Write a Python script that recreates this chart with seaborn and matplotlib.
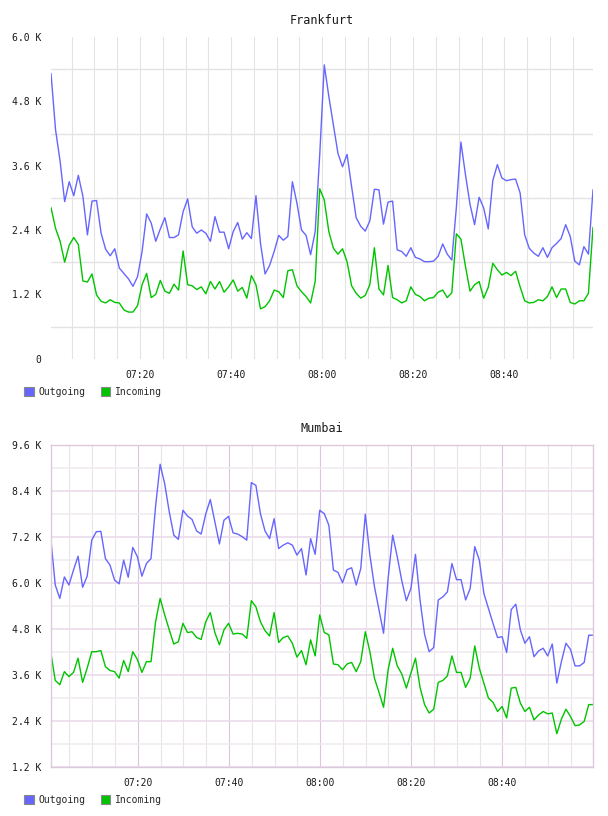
import matplotlib
matplotlib.use("Agg")
import matplotlib.pyplot as plt
import matplotlib.dates as mdates
from matplotlib.patches import Patch
from matplotlib.ticker import FuncFormatter, MultipleLocator
import numpy as np
import pandas as pd
import seaborn as sns


"""
DATA (values in thousands, one sample per minute)
"""

FRANKFURT_START = "2024-01-01 07:00:28"
MUMBAI_START = "2024-01-01 07:00:55"

frankfurt_out = [
    5.32, 4.27, 3.68, 2.93, 3.30, 3.04, 3.42, 3.03, 2.31, 2.94,
    2.95, 2.34, 2.04, 1.92, 2.05, 1.69, 1.59, 1.49, 1.35, 1.53,
    2.00, 2.70, 2.53, 2.19, 2.42, 2.63, 2.26, 2.26, 2.31, 2.74,
    2.98, 2.46, 2.34, 2.40, 2.34, 2.19, 2.65, 2.36, 2.36, 2.05,
    2.37, 2.54, 2.23, 2.35, 2.24, 3.04, 2.15, 1.58, 1.74, 2.00,
    2.30, 2.21, 2.28, 3.30, 2.90, 2.40, 2.30, 1.94, 2.37, 3.80,
    5.48, 4.89, 4.36, 3.83, 3.58, 3.81, 3.21, 2.63, 2.47, 2.38,
    2.57, 3.16, 3.15, 2.51, 2.92, 2.94, 2.03, 2.00, 1.91, 2.07,
    1.89, 1.86, 1.81, 1.81, 1.82, 1.91, 2.14, 1.95, 1.84, 2.82,
    4.04, 3.43, 2.88, 2.50, 3.01, 2.81, 2.42, 3.32, 3.62, 3.37,
    3.32, 3.34, 3.35, 3.09, 2.31, 2.06, 1.97, 1.91, 2.07, 1.89,
    2.07, 2.15, 2.24, 2.50, 2.28, 1.82, 1.75, 2.09, 1.95, 3.15,
]
frankfurt_in = [
    2.82, 2.43, 2.19, 1.80, 2.12, 2.26, 2.13, 1.45, 1.43, 1.58,
    1.19, 1.07, 1.04, 1.10, 1.05, 1.04, 0.91, 0.87, 0.87, 0.99,
    1.38, 1.59, 1.14, 1.20, 1.46, 1.26, 1.22, 1.39, 1.28, 2.01,
    1.38, 1.36, 1.29, 1.34, 1.21, 1.44, 1.30, 1.44, 1.24, 1.34,
    1.47, 1.26, 1.33, 1.13, 1.55, 1.38, 0.93, 0.97, 1.08, 1.28,
    1.25, 1.14, 1.64, 1.66, 1.36, 1.25, 1.16, 1.04, 1.44, 3.17,
    2.96, 2.37, 2.06, 1.95, 2.05, 1.81, 1.36, 1.22, 1.13, 1.18,
    1.38, 2.07, 1.30, 1.19, 1.74, 1.14, 1.10, 1.04, 1.08, 1.34,
    1.20, 1.16, 1.08, 1.13, 1.14, 1.24, 1.28, 1.14, 1.23, 2.33,
    2.23, 1.72, 1.26, 1.38, 1.44, 1.13, 1.33, 1.78, 1.66, 1.56,
    1.61, 1.55, 1.63, 1.34, 1.08, 1.04, 1.05, 1.10, 1.08, 1.16,
    1.34, 1.14, 1.30, 1.30, 1.05, 1.02, 1.08, 1.08, 1.22, 2.45,
]

mumbai_out = [
    7.18, 5.94, 5.59, 6.15, 5.94, 6.33, 6.69, 5.88, 6.17, 7.11,
    7.33, 7.34, 6.63, 6.46, 6.07, 5.97, 6.59, 6.14, 6.92, 6.68,
    6.17, 6.50, 6.63, 7.99, 9.09, 8.58, 7.85, 7.24, 7.13, 7.89,
    7.74, 7.65, 7.35, 7.27, 7.79, 8.17, 7.59, 7.01, 7.63, 7.73,
    7.30, 7.27, 7.20, 7.11, 8.61, 8.54, 7.80, 7.35, 7.15, 7.67,
    6.89, 6.98, 7.04, 6.98, 6.72, 6.89, 6.20, 7.15, 6.74, 7.89,
    7.80, 7.50, 6.33, 6.27, 6.00, 6.34, 6.39, 5.94, 6.37, 7.79,
    6.72, 5.90, 5.29, 4.68, 6.11, 7.24, 6.68, 6.05, 5.53, 5.85,
    6.74, 5.55, 4.65, 4.20, 4.31, 5.55, 5.63, 5.76, 6.50, 6.08,
    6.08, 5.55, 5.85, 6.94, 6.59, 5.72, 5.33, 4.94, 4.57, 4.59,
    4.18, 5.30, 5.44, 4.77, 4.42, 4.59, 4.07, 4.22, 4.29, 4.09,
    4.40, 3.38, 3.94, 4.42, 4.26, 3.83, 3.83, 3.92, 4.63, 4.63,
]
mumbai_in = [
    4.20, 3.45, 3.34, 3.68, 3.55, 3.66, 4.03, 3.40, 3.77, 4.20,
    4.20, 4.23, 3.81, 3.71, 3.68, 3.51, 3.97, 3.68, 4.20, 4.00,
    3.66, 3.94, 3.94, 4.98, 5.59, 5.16, 4.77, 4.40, 4.46, 4.94,
    4.70, 4.72, 4.57, 4.52, 4.98, 5.22, 4.70, 4.38, 4.77, 4.94,
    4.66, 4.68, 4.66, 4.55, 5.53, 5.37, 4.98, 4.75, 4.61, 5.22,
    4.44, 4.57, 4.61, 4.42, 4.06, 4.23, 3.86, 4.51, 4.09, 5.16,
    4.70, 4.64, 3.88, 3.86, 3.73, 3.88, 3.92, 3.68, 3.94, 4.72,
    4.20, 3.51, 3.14, 2.75, 3.73, 4.29, 3.83, 3.62, 3.25, 3.64,
    4.03, 3.27, 2.82, 2.60, 2.70, 3.40, 3.45, 3.57, 4.09, 3.66,
    3.66, 3.27, 3.51, 4.35, 3.77, 3.38, 2.99, 2.88, 2.64, 2.77,
    2.47, 3.25, 3.27, 2.86, 2.64, 2.75, 2.42, 2.55, 2.64, 2.58,
    2.60, 2.06, 2.44, 2.70, 2.51, 2.27, 2.29, 2.38, 2.82, 2.82,
]

SERIES_LABELS = ["Outgoing", "Incoming"]

OUT_COLOR = "#6666ff"
IN_COLOR = "#00c400"
TEXT_COLOR = "#1a1a1a"
FONT = "DejaVu Sans Mono"


def k_label(v, pos):
    if abs(v) < 1e-9:
        return "0"
    return f"{v:.1f} K"


def draw_panel(ax, fig, title, start, out_vals, in_vals, ylim, style, legend_y):
    times = pd.date_range(start, periods=len(out_vals), freq="1min")
    df = pd.DataFrame({"time": times, "out": out_vals, "in": in_vals})

    sns.lineplot(data=df, x="time", y="out", color=OUT_COLOR, linewidth=1.0, ax=ax)
    sns.lineplot(data=df, x="time", y="in", color=IN_COLOR, linewidth=1.0, ax=ax)

    ax.set_xlim(times[0], times[-1])
    ax.set_ylim(ylim)
    ax.set_xlabel("")
    ax.set_ylabel("")

    ax.xaxis.set_major_locator(mdates.MinuteLocator(byminute=[0, 20, 40]))
    ax.xaxis.set_minor_locator(mdates.MinuteLocator(byminute=range(0, 60, 5)))
    ax.xaxis.set_major_formatter(mdates.DateFormatter("%H:%M"))
    ax.yaxis.set_major_locator(MultipleLocator(1.2))
    ax.yaxis.set_major_formatter(FuncFormatter(k_label))
    ax.set_yticks(np.arange(ylim[0] + 0.6, ylim[1], 1.2), minor=True)

    ax.tick_params(which="both", length=0, labelsize=7, colors=TEXT_COLOR)
    ax.tick_params(axis="x", pad=8)
    ax.tick_params(axis="y", pad=7)
    for lab in ax.get_xticklabels() + ax.get_yticklabels():
        lab.set_family(FONT)

    ax.set_axisbelow(True)
    if style == "plain":
        # Frankfurt: grey grid, no frame, horizontal lines between labels
        ax.grid(False)
        ax.grid(which="both", axis="x", color="#e3e3e3", linewidth=0.8)
        ax.grid(which="minor", axis="y", color="#e3e3e3", linewidth=1.0)
        for sp in ax.spines.values():
            sp.set_visible(False)
    else:
        # Mumbai: purple frame, purple major lines, grey minor lines
        ax.grid(False)
        ax.grid(which="minor", axis="x", color="#ebe3eb", linewidth=0.8)
        ax.grid(which="major", axis="x", color="#dcc6dc", linewidth=0.8)
        ax.grid(which="minor", axis="y", color="#efeaef", linewidth=1.1)
        ax.grid(which="major", axis="y", color="#ead8ea", linewidth=1.1)
        for sp in ax.spines.values():
            sp.set_visible(True)
            sp.set_color("#dccadc")
            sp.set_linewidth(1.0)

    ax.set_title(title, fontsize=8.5, family=FONT, color=TEXT_COLOR, pad=9)

    handles = [
        Patch(facecolor=OUT_COLOR, edgecolor="#888888", linewidth=0.8),
        Patch(facecolor=IN_COLOR, edgecolor="#888888", linewidth=0.8),
    ]
    ax.legend(
        handles, SERIES_LABELS,
        loc="center left",
        bbox_to_anchor=(24 / 608, 1 - legend_y / 816),
        bbox_transform=fig.transFigure,
        ncol=2, frameon=False,
        prop={"family": FONT, "size": 7},
        handlelength=1.0, handleheight=1.0,
        handletextpad=0.45, columnspacing=1.6,
        borderpad=0, borderaxespad=0,
    )


sns.set_style("white")
plt.rcParams["font.family"] = [FONT, "DejaVu Sans"]

fig = plt.figure(figsize=(6.08, 8.16), dpi=100)
ax_top = fig.add_axes([51 / 608, 1 - 358.7 / 816, 542 / 608, 321.7 / 816])
ax_bot = fig.add_axes([50.7 / 608, 1 - 766.7 / 816, 542.6 / 608, 322 / 816])

draw_panel(ax_top, fig, "Frankfurt", FRANKFURT_START,
           frankfurt_out, frankfurt_in, (0, 6.0), "plain", 392)
draw_panel(ax_bot, fig, "Mumbai", MUMBAI_START,
           mumbai_out, mumbai_in, (1.2, 9.6), "framed", 800)

fig.savefig("out.png", dpi=100)
